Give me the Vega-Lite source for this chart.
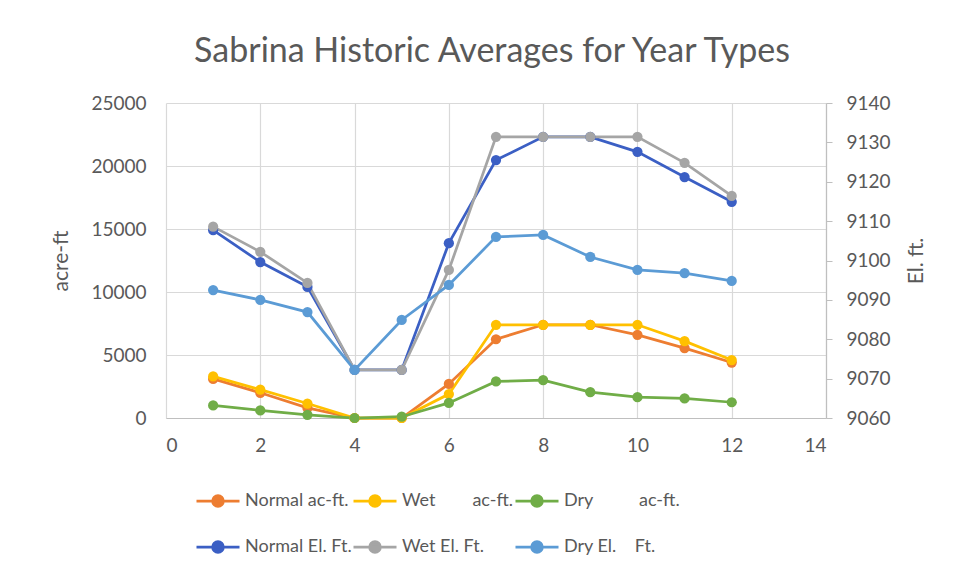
{
  "$schema": "https://vega.github.io/schema/vega-lite/v6.json",
  "width": 660,
  "height": 315,
  "autosize": {"type": "none"},
  "padding": {"left": 166, "top": 103, "right": 132, "bottom": 159},
  "background": "white",
  "title": {"text": "Sabrina Historic Averages for Year Types", "fontSize": 34, "font": "Lato", "fontWeight": "normal", "color": "#595959", "anchor": "middle", "dx": -4, "offset": 25},
  "config": {"font": "Lato", "view": {"stroke": null}},
  "data": {"values": [
    {"m": 1, "s": "Normal ac-ft.", "t": "ac", "v": 3100},
    {"m": 2, "s": "Normal ac-ft.", "t": "ac", "v": 2000},
    {"m": 3, "s": "Normal ac-ft.", "t": "ac", "v": 800},
    {"m": 4, "s": "Normal ac-ft.", "t": "ac", "v": 0},
    {"m": 5, "s": "Normal ac-ft.", "t": "ac", "v": 0},
    {"m": 6, "s": "Normal ac-ft.", "t": "ac", "v": 2700},
    {"m": 7, "s": "Normal ac-ft.", "t": "ac", "v": 6250},
    {"m": 8, "s": "Normal ac-ft.", "t": "ac", "v": 7400},
    {"m": 9, "s": "Normal ac-ft.", "t": "ac", "v": 7400},
    {"m": 10, "s": "Normal ac-ft.", "t": "ac", "v": 6600},
    {"m": 11, "s": "Normal ac-ft.", "t": "ac", "v": 5550},
    {"m": 12, "s": "Normal ac-ft.", "t": "ac", "v": 4400},
    {"m": 1, "s": "Wet\u00a0\u00a0\u00a0\u00a0\u00a0\u00a0\u00a0\u00a0ac-ft.", "t": "ac", "v": 3300},
    {"m": 2, "s": "Wet\u00a0\u00a0\u00a0\u00a0\u00a0\u00a0\u00a0\u00a0ac-ft.", "t": "ac", "v": 2250},
    {"m": 3, "s": "Wet\u00a0\u00a0\u00a0\u00a0\u00a0\u00a0\u00a0\u00a0ac-ft.", "t": "ac", "v": 1150},
    {"m": 4, "s": "Wet\u00a0\u00a0\u00a0\u00a0\u00a0\u00a0\u00a0\u00a0ac-ft.", "t": "ac", "v": 0},
    {"m": 5, "s": "Wet\u00a0\u00a0\u00a0\u00a0\u00a0\u00a0\u00a0\u00a0ac-ft.", "t": "ac", "v": 0},
    {"m": 6, "s": "Wet\u00a0\u00a0\u00a0\u00a0\u00a0\u00a0\u00a0\u00a0ac-ft.", "t": "ac", "v": 1900},
    {"m": 7, "s": "Wet\u00a0\u00a0\u00a0\u00a0\u00a0\u00a0\u00a0\u00a0ac-ft.", "t": "ac", "v": 7400},
    {"m": 8, "s": "Wet\u00a0\u00a0\u00a0\u00a0\u00a0\u00a0\u00a0\u00a0ac-ft.", "t": "ac", "v": 7400},
    {"m": 9, "s": "Wet\u00a0\u00a0\u00a0\u00a0\u00a0\u00a0\u00a0\u00a0ac-ft.", "t": "ac", "v": 7400},
    {"m": 10, "s": "Wet\u00a0\u00a0\u00a0\u00a0\u00a0\u00a0\u00a0\u00a0ac-ft.", "t": "ac", "v": 7400},
    {"m": 11, "s": "Wet\u00a0\u00a0\u00a0\u00a0\u00a0\u00a0\u00a0\u00a0ac-ft.", "t": "ac", "v": 6100},
    {"m": 12, "s": "Wet\u00a0\u00a0\u00a0\u00a0\u00a0\u00a0\u00a0\u00a0ac-ft.", "t": "ac", "v": 4600},
    {"m": 1, "s": "Dry\u00a0\u00a0\u00a0\u00a0\u00a0\u00a0\u00a0\u00a0\u00a0\u00a0ac-ft.", "t": "ac", "v": 1000},
    {"m": 2, "s": "Dry\u00a0\u00a0\u00a0\u00a0\u00a0\u00a0\u00a0\u00a0\u00a0\u00a0ac-ft.", "t": "ac", "v": 600},
    {"m": 3, "s": "Dry\u00a0\u00a0\u00a0\u00a0\u00a0\u00a0\u00a0\u00a0\u00a0\u00a0ac-ft.", "t": "ac", "v": 250},
    {"m": 4, "s": "Dry\u00a0\u00a0\u00a0\u00a0\u00a0\u00a0\u00a0\u00a0\u00a0\u00a0ac-ft.", "t": "ac", "v": 0},
    {"m": 5, "s": "Dry\u00a0\u00a0\u00a0\u00a0\u00a0\u00a0\u00a0\u00a0\u00a0\u00a0ac-ft.", "t": "ac", "v": 100},
    {"m": 6, "s": "Dry\u00a0\u00a0\u00a0\u00a0\u00a0\u00a0\u00a0\u00a0\u00a0\u00a0ac-ft.", "t": "ac", "v": 1200},
    {"m": 7, "s": "Dry\u00a0\u00a0\u00a0\u00a0\u00a0\u00a0\u00a0\u00a0\u00a0\u00a0ac-ft.", "t": "ac", "v": 2900},
    {"m": 8, "s": "Dry\u00a0\u00a0\u00a0\u00a0\u00a0\u00a0\u00a0\u00a0\u00a0\u00a0ac-ft.", "t": "ac", "v": 3000},
    {"m": 9, "s": "Dry\u00a0\u00a0\u00a0\u00a0\u00a0\u00a0\u00a0\u00a0\u00a0\u00a0ac-ft.", "t": "ac", "v": 2050},
    {"m": 10, "s": "Dry\u00a0\u00a0\u00a0\u00a0\u00a0\u00a0\u00a0\u00a0\u00a0\u00a0ac-ft.", "t": "ac", "v": 1650},
    {"m": 11, "s": "Dry\u00a0\u00a0\u00a0\u00a0\u00a0\u00a0\u00a0\u00a0\u00a0\u00a0ac-ft.", "t": "ac", "v": 1550},
    {"m": 12, "s": "Dry\u00a0\u00a0\u00a0\u00a0\u00a0\u00a0\u00a0\u00a0\u00a0\u00a0ac-ft.", "t": "ac", "v": 1250},
    {"m": 1, "s": "Normal El. Ft.", "t": "el", "v": 9107.7},
    {"m": 2, "s": "Normal El. Ft.", "t": "el", "v": 9099.6},
    {"m": 3, "s": "Normal El. Ft.", "t": "el", "v": 9093.3},
    {"m": 4, "s": "Normal El. Ft.", "t": "el", "v": 9072.2},
    {"m": 5, "s": "Normal El. Ft.", "t": "el", "v": 9072.2},
    {"m": 6, "s": "Normal El. Ft.", "t": "el", "v": 9104.4},
    {"m": 7, "s": "Normal El. Ft.", "t": "el", "v": 9125.5},
    {"m": 8, "s": "Normal El. Ft.", "t": "el", "v": 9131.4},
    {"m": 9, "s": "Normal El. Ft.", "t": "el", "v": 9131.4},
    {"m": 10, "s": "Normal El. Ft.", "t": "el", "v": 9127.6},
    {"m": 11, "s": "Normal El. Ft.", "t": "el", "v": 9121.2},
    {"m": 12, "s": "Normal El. Ft.", "t": "el", "v": 9114.9},
    {"m": 1, "s": "Wet El. Ft.", "t": "el", "v": 9108.6},
    {"m": 2, "s": "Wet El. Ft.", "t": "el", "v": 9102.2},
    {"m": 3, "s": "Wet El. Ft.", "t": "el", "v": 9094.3},
    {"m": 4, "s": "Wet El. Ft.", "t": "el", "v": 9072.2},
    {"m": 5, "s": "Wet El. Ft.", "t": "el", "v": 9072.2},
    {"m": 6, "s": "Wet El. Ft.", "t": "el", "v": 9097.6},
    {"m": 7, "s": "Wet El. Ft.", "t": "el", "v": 9131.4},
    {"m": 8, "s": "Wet El. Ft.", "t": "el", "v": 9131.4},
    {"m": 9, "s": "Wet El. Ft.", "t": "el", "v": 9131.4},
    {"m": 10, "s": "Wet El. Ft.", "t": "el", "v": 9131.4},
    {"m": 11, "s": "Wet El. Ft.", "t": "el", "v": 9124.8},
    {"m": 12, "s": "Wet El. Ft.", "t": "el", "v": 9116.4},
    {"m": 1, "s": "Dry El.\u00a0\u00a0\u00a0\u00a0Ft.", "t": "el", "v": 9092.5},
    {"m": 2, "s": "Dry El.\u00a0\u00a0\u00a0\u00a0Ft.", "t": "el", "v": 9090.0},
    {"m": 3, "s": "Dry El.\u00a0\u00a0\u00a0\u00a0Ft.", "t": "el", "v": 9086.9},
    {"m": 4, "s": "Dry El.\u00a0\u00a0\u00a0\u00a0Ft.", "t": "el", "v": 9072.2},
    {"m": 5, "s": "Dry El.\u00a0\u00a0\u00a0\u00a0Ft.", "t": "el", "v": 9084.9},
    {"m": 6, "s": "Dry El.\u00a0\u00a0\u00a0\u00a0Ft.", "t": "el", "v": 9093.8},
    {"m": 7, "s": "Dry El.\u00a0\u00a0\u00a0\u00a0Ft.", "t": "el", "v": 9106.0},
    {"m": 8, "s": "Dry El.\u00a0\u00a0\u00a0\u00a0Ft.", "t": "el", "v": 9106.5},
    {"m": 9, "s": "Dry El.\u00a0\u00a0\u00a0\u00a0Ft.", "t": "el", "v": 9100.9},
    {"m": 10, "s": "Dry El.\u00a0\u00a0\u00a0\u00a0Ft.", "t": "el", "v": 9097.6},
    {"m": 11, "s": "Dry El.\u00a0\u00a0\u00a0\u00a0Ft.", "t": "el", "v": 9096.8},
    {"m": 12, "s": "Dry El.\u00a0\u00a0\u00a0\u00a0Ft.", "t": "el", "v": 9094.8}
  ]},
  "encoding": {
    "x": {
      "field": "m", "type": "quantitative",
      "scale": {"domain": [0, 14], "nice": false},
      "axis": {"values": [0, 2, 4, 6, 8, 10, 12, 14], "title": null, "grid": true, "gridColor": "#D9D9D9", "gridWidth": 1.2, "domainColor": "#BFBFBF", "domainWidth": 1.2, "ticks": false, "labelPadding": 18, "labelFontSize": 19, "labelColor": "#595959", "labelFont": "Lato"}
    },
    "color": {
      "field": "s", "type": "nominal",
      "scale": {
        "domain": ["Normal ac-ft.", "Wet\u00a0\u00a0\u00a0\u00a0\u00a0\u00a0\u00a0\u00a0ac-ft.", "Dry\u00a0\u00a0\u00a0\u00a0\u00a0\u00a0\u00a0\u00a0\u00a0\u00a0ac-ft.", "Normal El. Ft.", "Wet El. Ft.", "Dry El.\u00a0\u00a0\u00a0\u00a0Ft."],
        "range": ["#ED7D31", "#FFC000", "#70AD47", "#3B5FC4", "#A5A5A5", "#5B9BD5"]
      },
      "legend": {
        "orient": "none", "legendX": 29, "legendY": 375, "columns": 3, "direction": "horizontal", "title": null,
        "symbolType": "M-1,0L1,0M-0.25,0A0.25,0.25,0,1,1,0.25,0A0.25,0.25,0,1,1,-0.25,0Z",
        "symbolSize": 1850, "symbolStrokeWidth": 2.75, "symbolOpacity": 1,
        "labelFontSize": 18, "labelColor": "#595959", "labelFont": "Lato", "labelOffset": 4, "labelLimit": 400,
        "rowPadding": 12, "columnPadding": -12,
        "encode": {"symbols": {"update": {"fill": {"scale": "color", "field": "value"}}}}
      }
    }
  },
  "layer": [
    {
      "transform": [{"filter": "datum.t == 'ac'"}],
      "mark": {"type": "line", "strokeWidth": 2.75, "point": {"filled": true, "size": 105, "opacity": 1}},
      "encoding": {
        "y": {
          "field": "v", "type": "quantitative",
          "scale": {"domain": [0, 25000], "nice": false},
          "axis": {"values": [0, 5000, 10000, 15000, 20000, 25000], "format": "d", "title": "acre-ft", "titleFontSize": 21, "titleColor": "#595959", "titleFontWeight": "normal", "titleFont": "Lato", "titlePadding": 19, "labelFontSize": 19, "labelColor": "#595959", "labelFont": "Lato", "domain": false, "ticks": false, "labelPadding": 20, "grid": true, "gridColor": "#D9D9D9", "gridWidth": 1.2}
        }
      }
    },
    {
      "transform": [{"filter": "datum.t == 'el'"}],
      "mark": {"type": "line", "strokeWidth": 2.75, "point": {"filled": true, "size": 105, "opacity": 1}},
      "encoding": {
        "y": {
          "field": "v", "type": "quantitative",
          "scale": {"domain": [9060, 9140], "nice": false, "zero": false},
          "axis": {"orient": "right", "values": [9060, 9070, 9080, 9090, 9100, 9110, 9120, 9130, 9140], "format": "d", "title": "El. ft.", "titleAngle": 270, "titleFontSize": 21, "titleColor": "#595959", "titleFontWeight": "normal", "titleFont": "Lato", "titlePadding": 36, "labelFontSize": 19, "labelColor": "#595959", "labelFont": "Lato", "grid": false, "domain": true, "domainColor": "#BFBFBF", "domainWidth": 1.2, "ticks": true, "tickColor": "#BFBFBF", "tickSize": 6, "labelPadding": 14}
        }
      }
    }
  ],
  "resolve": {"scale": {"y": "independent"}}
}
